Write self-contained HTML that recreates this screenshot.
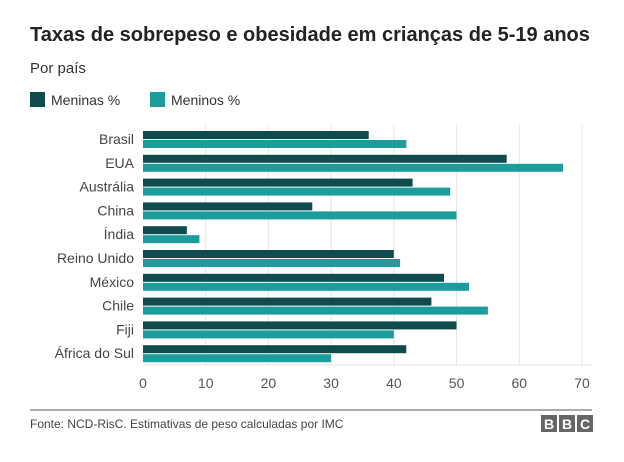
<!DOCTYPE html>
<html><head><meta charset="utf-8"><style>
body{margin:0;background:#fff;width:624px;height:457px;overflow:hidden;font-family:"Liberation Sans",sans-serif;}
</style></head><body>
<svg width="624" height="457" xmlns="http://www.w3.org/2000/svg" font-family="Liberation Sans, sans-serif">
<text x="30" y="41" font-size="20" font-weight="bold" fill="#222">Taxas de sobrepeso e obesidade em crianças de 5-19 anos</text>
<text x="30" y="73" font-size="15" fill="#333">Por país</text>
<rect x="30" y="92" width="15" height="15" fill="#104b4d"/>
<text x="51" y="105" font-size="14" fill="#333">Meninas %</text>
<rect x="150" y="92" width="15" height="15" fill="#1c9c9c"/>
<text x="171" y="105" font-size="14" fill="#333">Meninos %</text>
<g stroke="#e4e4e4" stroke-width="1">
<line x1="205.7" y1="125" x2="205.7" y2="365"/><line x1="268.4" y1="125" x2="268.4" y2="365"/>
<line x1="331.1" y1="125" x2="331.1" y2="365"/><line x1="393.9" y1="125" x2="393.9" y2="365"/>
<line x1="456.6" y1="125" x2="456.6" y2="365"/><line x1="519.3" y1="125" x2="519.3" y2="365"/>
<line x1="582" y1="125" x2="582" y2="365"/>
<line x1="143" y1="365" x2="592" y2="365"/>
</g>
<g fill="#104b4d">
<rect x="143" y="131" width="225.7" height="8"/>
<rect x="143" y="154.8" width="363.7" height="8"/>
<rect x="143" y="178.6" width="269.6" height="8"/>
<rect x="143" y="202.4" width="169.3" height="8"/>
<rect x="143" y="226.2" width="43.9" height="8"/>
<rect x="143" y="250" width="250.8" height="8"/>
<rect x="143" y="273.8" width="301" height="8"/>
<rect x="143" y="297.6" width="288.4" height="8"/>
<rect x="143" y="321.4" width="313.5" height="8"/>
<rect x="143" y="345.2" width="263.3" height="8"/>
</g>
<g fill="#1c9c9c">
<rect x="143" y="140" width="263.3" height="8"/>
<rect x="143" y="163.8" width="420.1" height="8"/>
<rect x="143" y="187.6" width="307.2" height="8"/>
<rect x="143" y="211.4" width="313.5" height="8"/>
<rect x="143" y="235.2" width="56.4" height="8"/>
<rect x="143" y="259" width="257.1" height="8"/>
<rect x="143" y="282.8" width="326" height="8"/>
<rect x="143" y="306.6" width="344.9" height="8"/>
<rect x="143" y="330.4" width="250.8" height="8"/>
<rect x="143" y="354.2" width="188.1" height="8"/>
</g>
<g font-size="14" fill="#444" text-anchor="end">
<text x="134" y="144">Brasil</text>
<text x="134" y="167.8">EUA</text>
<text x="134" y="191.6">Austrália</text>
<text x="134" y="215.4">China</text>
<text x="134" y="239.2">Índia</text>
<text x="134" y="263">Reino Unido</text>
<text x="134" y="286.8">México</text>
<text x="134" y="310.6">Chile</text>
<text x="134" y="334.4">Fiji</text>
<text x="134" y="358.2">África do Sul</text>
</g>
<g font-size="14" fill="#555" text-anchor="middle">
<text x="143" y="388">0</text><text x="205.7" y="388">10</text><text x="268.4" y="388">20</text><text x="331.1" y="388">30</text><text x="393.9" y="388">40</text><text x="456.6" y="388">50</text><text x="519.3" y="388">60</text><text x="582" y="388">70</text>
</g>
<line x1="30" y1="410" x2="592" y2="410" stroke="#555" stroke-width="1"/>
<text x="30" y="428" font-size="12" fill="#444">Fonte: NCD-RisC. Estimativas de peso calculadas por IMC</text>
<g font-size="14" font-weight="bold" fill="#fff" text-anchor="middle">
<rect x="541" y="415" width="16" height="17" fill="#666"/><text x="549" y="429">B</text>
<rect x="559" y="415" width="16" height="17" fill="#666"/><text x="567" y="429">B</text>
<rect x="577" y="415" width="16" height="17" fill="#666"/><text x="585" y="429">C</text>
</g>
</svg>
</body></html>
